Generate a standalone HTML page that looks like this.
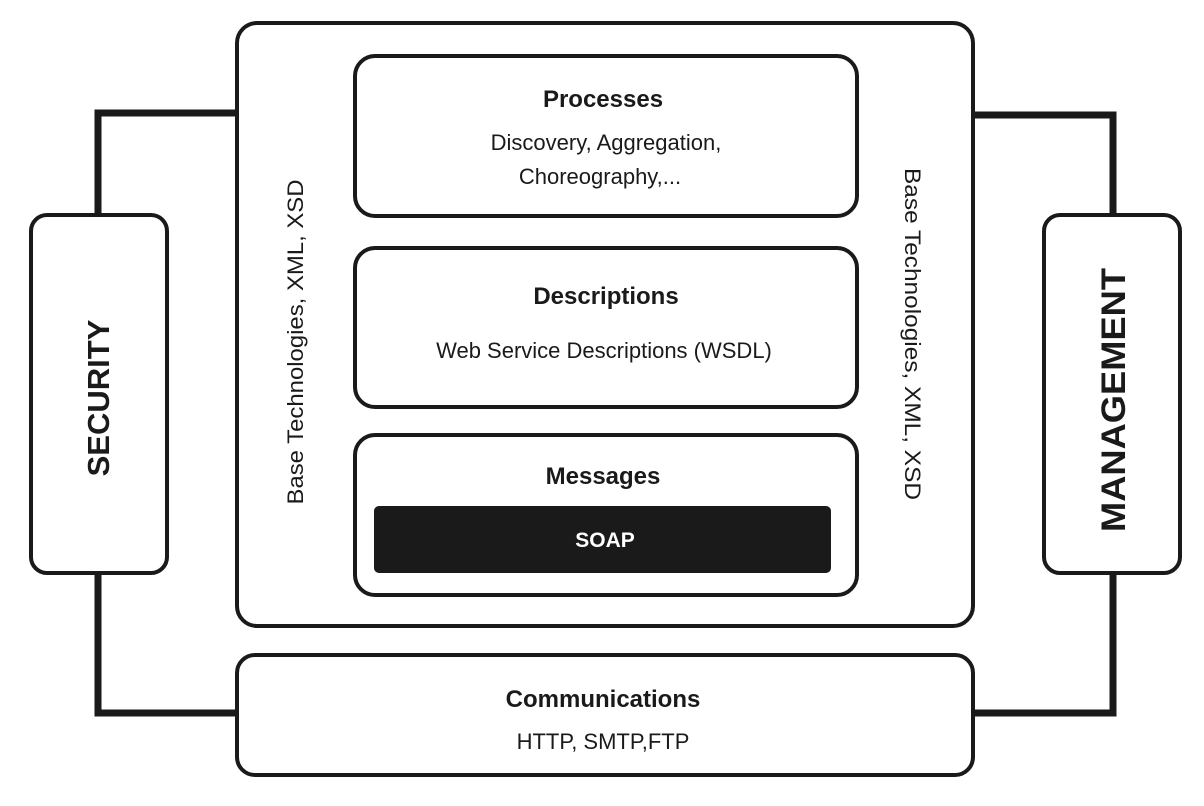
<!DOCTYPE html>
<html><head><style>html,body{margin:0;padding:0;background:#fff}</style></head>
<body>
<svg width="1204" height="801" viewBox="0 0 1204 801" xmlns="http://www.w3.org/2000/svg" font-family="'Liberation Sans', 'DejaVu Sans', sans-serif" fill="#1a1a1a">
<g fill="none" stroke="#1a1a1a" stroke-width="7">
<polyline points="236,113 98,113 98,215"/>
<polyline points="98,573 98,713 236,713"/>
<polyline points="973,115 1113,115 1113,215"/>
<polyline points="1113,573 1113,713 973,713"/>
</g>
<g fill="#fff" stroke="#1a1a1a" stroke-width="4">
<rect x="237" y="23" width="736" height="603" rx="20"/>
<rect x="355" y="56" width="502" height="160" rx="20"/>
<rect x="355" y="248" width="502" height="159" rx="20"/>
<rect x="355" y="435" width="502" height="160" rx="20"/>
<rect x="237" y="655" width="736" height="120" rx="18"/>
<rect x="31" y="215" width="136" height="358" rx="16"/>
<rect x="1044" y="215" width="136" height="358" rx="16"/>
</g>
<rect x="374" y="506" width="457" height="67" rx="5" fill="#1a1a1a"/>
<g text-anchor="middle" font-size="22">
<text x="603" y="107" font-weight="bold" font-size="24">Processes</text>
<text x="606" y="150">Discovery, Aggregation,</text>
<text x="600" y="184">Choreography,...</text>
<text x="606" y="304" font-weight="bold" font-size="24">Descriptions</text>
<text x="604" y="358">Web Service Descriptions (WSDL)</text>
<text x="603" y="484" font-weight="bold" font-size="24">Messages</text>
<text x="605" y="547" font-weight="bold" font-size="21" fill="#fff">SOAP</text>
<text x="603" y="707" font-weight="bold" font-size="24">Communications</text>
<text x="603" y="749">HTTP, SMTP,FTP</text>
<text transform="translate(109,398) rotate(-90)" font-weight="bold" font-size="31">SECURITY</text>
<text transform="translate(1125,400) rotate(-90)" font-weight="bold" font-size="34" textLength="264" lengthAdjust="spacingAndGlyphs">MANAGEMENT</text>
<text transform="translate(303,342) rotate(-90)" font-size="22" textLength="325" lengthAdjust="spacingAndGlyphs">Base Technologies, XML, XSD</text>
<text transform="translate(905,334) rotate(90)" font-size="22" textLength="332" lengthAdjust="spacingAndGlyphs">Base Technologies, XML, XSD</text>
</g>
</svg>
</body></html>
